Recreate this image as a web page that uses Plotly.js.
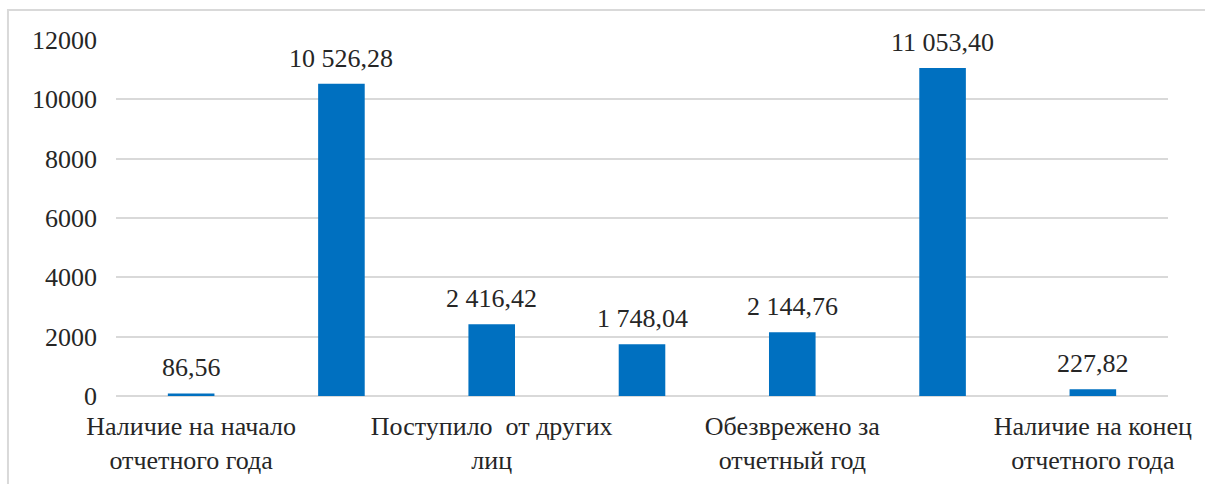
<!DOCTYPE html>
<html>
<head>
<meta charset="utf-8">
<script src="https://cdn.plot.ly/plotly-3.0.1.min.js"></script>
<style>
  html, body { margin: 0; padding: 0; background: #ffffff; }
  #chart { width: 1205px; height: 484px; }
</style>
</head>
<body>
<div id="chart"></div>
<script>
// Data
const categories = [
  "Наличие на начало отчетного года",
  "Образовано за отчетный год",
  "Поступило от других лиц",
  "Утилизировано за отчетный год",
  "Обезврежено за отчетный год",
  "Передано другим лицам",
  "Наличие на конец отчетного года"
];
const values = [86.56, 10526.28, 2416.42, 1748.04, 2144.76, 11053.40, 227.82];
// Axis labels shown in the reference (every other category)
const shownCategories = [categories[0], categories[2], categories[4], categories[6]];
const shownTickText = [
  "Наличие на начало<br>отчетного года",
  "Поступило  от других<br>лиц",
  "Обезврежено за<br>отчетный год",
  "Наличие на конец<br>отчетного года"
];
const yTicks = [0, 2000, 4000, 6000, 8000, 10000, 12000];

function fmt(v) {
  const parts = v.toFixed(2).split(".");
  const intPart = parts[0].replace(/\B(?=(\d{3})+(?!\d))/g, " ");
  return intPart + "," + parts[1];
}

const FONT = "Times New Roman";
const FS = 26;

const trace = {
  type: "bar",
  x: categories,
  y: values,
  marker: { color: "#0070C0" },
  hoverinfo: "x+y"
};

const annotations = categories.map((c, i) => ({
  x: c, y: values[i], xref: "x", yref: "y",
  text: fmt(values[i]),
  showarrow: false,
  yanchor: "bottom",
  yshift: 9,
  font: { family: FONT, size: FS, color: "#262626" }
}));

const layout = {
  width: 1205, height: 484,
  margin: { l: 116, r: 37, t: 40, b: 88 },
  paper_bgcolor: "#ffffff",
  plot_bgcolor: "#ffffff",
  showlegend: false,
  bargap: 0.69,
  font: { family: FONT, size: FS, color: "#262626" },
  xaxis: {
    type: "category",
    tickmode: "array",
    tickvals: shownCategories,
    ticktext: shownTickText,
    ticks: "",
    showgrid: false,
    zeroline: false,
    showline: false,
    ticklabelstandoff: 12,
    tickfont: { family: FONT, size: FS, color: "#262626" },
    automargin: false
  },
  yaxis: {
    range: [0, 12000],
    tickmode: "array",
    tickvals: yTicks,
    ticktext: yTicks.map(String),
    showgrid: true,
    gridcolor: "#d9d9d9",
    gridwidth: 2,
    zeroline: true,
    zerolinecolor: "#d9d9d9",
    zerolinewidth: 2,
    showline: false,
    ticks: "",
    ticklabelstandoff: 18,
    tickfont: { family: FONT, size: FS, color: "#262626" },
    automargin: false
  },
  annotations: annotations,
  shapes: [{
    type: "rect", xref: "paper", yref: "paper",
    x0: -0.1027, x1: 1.2, y0: -0.4, y1: 1.0843,
    line: { color: "#d9d9d9", width: 2 },
    fillcolor: "rgba(0,0,0,0)",
    layer: "below"
  }]
};

Plotly.newPlot("chart", [trace], layout, { displayModeBar: false, staticPlot: true });
</script>
</body>
</html>
